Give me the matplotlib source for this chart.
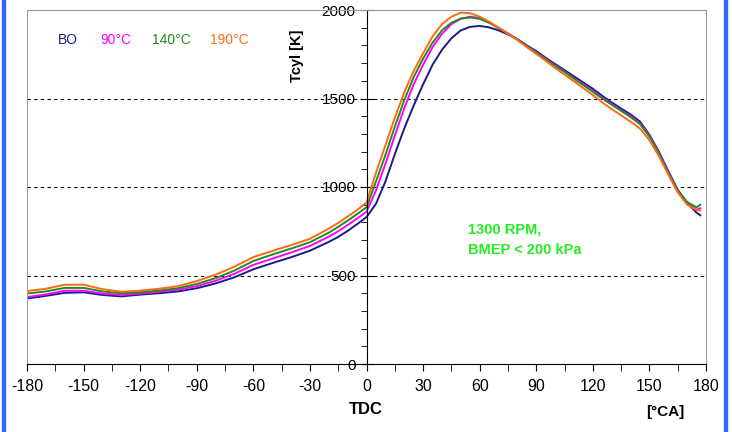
import matplotlib.pyplot as plt
from matplotlib.ticker import MultipleLocator
from matplotlib.patches import Rectangle

plt.rcParams['font.family'] = ['Liberation Sans', 'DejaVu Sans']
plt.rcParams['axes.unicode_minus'] = False

# crank angle [deg CA]
angle = [-180, -170, -160, -150, -140, -130, -120, -110, -100, -90, -80, -70, -60,
         -50, -40, -30, -20, -15, -10, -5, 0, 5, 10, 15, 20, 25, 30, 35, 40, 45,
         50, 55, 60, 65, 70, 75, 80, 85, 90, 95, 100, 105, 110, 115, 120, 125,
         130, 135, 140, 145, 150, 155, 160, 165, 170, 175, 177]

t_bo = [370, 385, 402, 405, 390, 382, 392, 400, 410, 428, 455, 490, 535,
        570, 603, 640, 690, 718, 752, 790, 830, 905, 1030, 1185, 1330, 1460, 1580, 1690, 1775, 1840,
        1885, 1905, 1910, 1902, 1885, 1862, 1835, 1800, 1768, 1730, 1695, 1660, 1625, 1590, 1555, 1515,
        1478, 1443, 1410, 1370, 1295, 1200, 1090, 985, 910, 855, 840]
t_90 = [378, 393, 414, 414, 398, 390, 398, 408, 420, 440, 470, 510, 560,
        595, 630, 667, 720, 750, 785, 822, 860, 980, 1130, 1290, 1445, 1580, 1690, 1790, 1865, 1920,
        1950, 1962, 1955, 1930, 1900, 1868, 1835, 1797, 1762, 1725, 1688, 1652, 1615, 1580, 1543, 1505,
        1468, 1433, 1400, 1360, 1290, 1195, 1085, 980, 910, 870, 880]
t_140 = [398, 410, 430, 430, 410, 400, 405, 415, 428, 452, 485, 528, 582,
         618, 652, 688, 742, 775, 810, 847, 885, 1030, 1180, 1340, 1490, 1620, 1725, 1815, 1885, 1928,
         1952, 1958, 1950, 1928, 1898, 1866, 1833, 1795, 1760, 1722, 1685, 1650, 1612, 1575, 1538, 1500,
         1465, 1430, 1395, 1355, 1285, 1190, 1080, 980, 915, 885, 900]
t_190 = [412, 425, 448, 448, 423, 408, 414, 425, 440, 468, 505, 550, 604,
         638, 672, 707, 765, 797, 833, 870, 912, 1080, 1235, 1390, 1535, 1655, 1755, 1850, 1920, 1962,
         1985, 1982, 1962, 1935, 1900, 1866, 1830, 1790, 1752, 1713, 1672, 1635, 1597, 1558, 1520, 1478,
         1440, 1405, 1370, 1330, 1265, 1175, 1070, 970, 900, 870, 868]

labels = ['BO', '90°C', '140°C', '190°C']
colors = ['#1a1a8c', '#ff00ff', '#1e8c1e', '#ff6a10']

fig = plt.figure(figsize=(7.32, 4.32), dpi=100)
ax = fig.add_axes([27/732, 1-364/432, 679/732, 354/432])

for t, c in zip([t_bo, t_90, t_140, t_190], colors):
    ax.plot(angle, t, color=c, lw=1.4)

for g in [500, 1000, 1500]:
    ax.axhline(g, color='k', lw=0.8, ls=(0, (3, 3)), zorder=0)

ax.set_xlim(-180, 180)
ax.set_ylim(0, 2000)
ax.spines['left'].set_position(('data', 0))
ax.spines['left'].set_color('k')
ax.spines['bottom'].set_color('k')
ax.spines['top'].set_color('#999999')
ax.spines['right'].set_color('#999999')
ax.axvline(-180, color='#999999', lw=1.5)

ax.xaxis.set_major_locator(MultipleLocator(30))
ax.xaxis.set_minor_locator(MultipleLocator(15))
ax.yaxis.set_major_locator(MultipleLocator(500))
ax.yaxis.set_minor_locator(MultipleLocator(100))
ax.tick_params(axis='x', which='both', direction='out', length=5, labelsize=11.5, pad=6)
ax.tick_params(axis='y', which='major', direction='inout', length=10, labelsize=11, pad=3)
ax.tick_params(axis='y', which='minor', direction='out', length=4)

xs = [58, 100, 152, 210]
for x, lab, c in zip(xs, labels, colors):
    fig.text(x/732, 1-40/432, lab, color=c, fontsize=10, va='center', ha='left')

fig.text(297/732, 1-56/432, 'Tcyl [K]', rotation=90, fontsize=10.5, fontweight='bold',
         ha='center', va='center')
fig.text(366/732, 1-410/432, 'TDC', fontsize=12, fontweight='bold', ha='center', va='center')
fig.text(665/732, 1-412/432, '[°CA]', fontsize=11, fontweight='bold', ha='center', va='center')
fig.text(468/732, 1-230/432, '1300 RPM,', color='#22ee22', fontsize=10.5, fontweight='bold',
         ha='left', va='center')
fig.text(468/732, 1-250/432, 'BMEP < 200 kPa', color='#22ee22', fontsize=10.5, fontweight='bold',
         ha='left', va='center')

# blue frame bars
fig.patches.append(Rectangle((2/732, 0), 3/732, 1, transform=fig.transFigure, color='#3366ff'))
fig.patches.append(Rectangle((724/732, 0), 3/732, 1, transform=fig.transFigure, color='#3366ff'))

fig.savefig('out.png', dpi=100)
